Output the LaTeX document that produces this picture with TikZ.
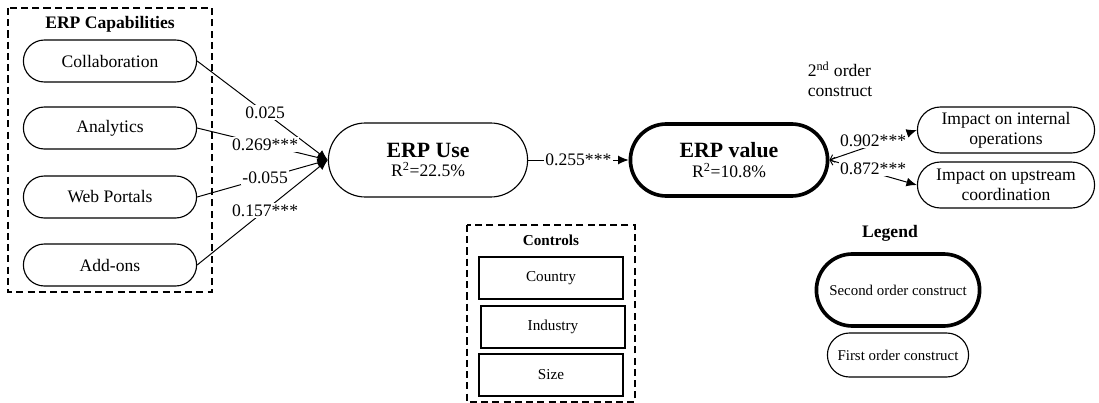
\documentclass[tikz,border=0pt]{standalone}
\usepackage{fontspec}
\setmainfont{Liberation Serif}
\usetikzlibrary{arrows.meta, shapes.misc}

\begin{document}
\begin{tikzpicture}[
  font=\fontsize{12.5}{14}\selectfont,
  >={Latex[length=2.6mm, width=2.2mm]},
  line width=0.7pt,
  construct/.style={rounded rectangle, draw, line width=0.8pt, inner sep=1pt,
                    minimum width=4.4cm, minimum height=1.05cm, align=center},
  construct-2nd/.style={construct, line width=2.6pt},
  control/.style={rectangle, draw, line width=0.8pt, minimum width=3.6cm,
                  minimum height=1.05cm, font=\fontsize{10.8}{13}\selectfont},
  groupbox/.style={draw, line width=0.8pt, dash pattern=on 5pt off 3pt},
  group-lbl/.style={font=\fontsize{12.5}{14}\selectfont\bfseries},
  legend-txt/.style={font=\fontsize{10.6}{13}\selectfont},
  path-lbl/.style={fill=white, inner sep=1pt}
]
  \useasboundingbox (0,0) rectangle (27.475,-10.075);

  % ERP capabilities (first order constructs)
  \draw[groupbox] (0.2,-0.2) rectangle (5.3,-7.3);
  \node[group-lbl] (caplbl) at (2.75,-0.6) {ERP Capabilities};
  \node[construct] (collab)    at (2.75,-1.525) {Collaboration};
  \node[construct] (analytics) at (2.75,-3.2)   {Analytics};
  \node[construct] (portals)   at (2.75,-4.925) {Web Portals};
  \node[construct] (addons)    at (2.75,-6.625) {Add-ons};

  % main constructs
  \node[construct, minimum width=5.05cm, minimum height=1.85cm] (use) at (10.7,-4.0)
    {{\fontsize{15.5}{17}\selectfont\bfseries ERP Use}\\R\textsuperscript{2}=22.5\%};
  \node[construct-2nd, minimum width=5.0cm, minimum height=1.8cm] (value) at (18.225,-4.0)
    {{\fontsize{15.5}{17}\selectfont\bfseries ERP value}\\R\textsuperscript{2}=10.8\%};

  \node[align=left] (ordlbl) at (21.0,-1.975) {2\textsuperscript{nd} order\\construct};
  \node[construct, minimum width=4.5cm, minimum height=1.15cm] (internal) at (25.15,-3.25)
    {Impact on internal\\operations};
  \node[construct, minimum width=4.5cm, minimum height=1.15cm] (upstream) at (25.15,-4.625)
    {Impact on upstream\\coordination};

  % paths
  \draw[->] (collab.east)    -- node[path-lbl, pos=0.52]{0.025} (use.west);
  \draw[->] (analytics.east) -- node[path-lbl, pos=0.52]{0.269***} (use.west);
  \draw[->] (portals.east)   -- node[path-lbl, pos=0.52]{-0.055} (use.west);
  \draw[->] (addons.east)    -- node[path-lbl, pos=0.52]{0.157***} (use.west);
  \draw[->] (use.east) -- node[path-lbl]{0.255***} (value.west);

  \draw[{Straight Barb[length=1mm]}->] (value.east) -- node[path-lbl, pos=0.5, yshift=3pt]{0.902***} (internal.west);
  \draw[{Straight Barb[length=1mm]}->] (value.east) -- node[path-lbl, pos=0.5, yshift=2.5pt]{0.872***} (upstream.west);

  % controls
  \draw[groupbox] (11.675,-5.625) rectangle (15.875,-10.05);
  \node[group-lbl, font=\fontsize{10.8}{13}\selectfont\bfseries] (ctrllbl) at (13.775,-6.0) {Controls};
  \node[control] (country)  at (13.775,-6.95)  {Country};
  \node[control] (industry) at (13.825,-8.175) {Industry};
  \node[control] (size)     at (13.775,-9.375) {Size};

  % legend
  \node[group-lbl] (leglbl) at (22.25,-5.825) {Legend};
  \node[construct-2nd, legend-txt, minimum width=4.15cm, minimum height=1.8cm] (leg2nd) at (22.45,-7.25)
    {Second order construct};
  \node[construct, legend-txt, minimum width=3.6cm, minimum height=1.1cm] (leg1st) at (22.45,-8.875)
    {First order construct};
\end{tikzpicture}
\end{document}
